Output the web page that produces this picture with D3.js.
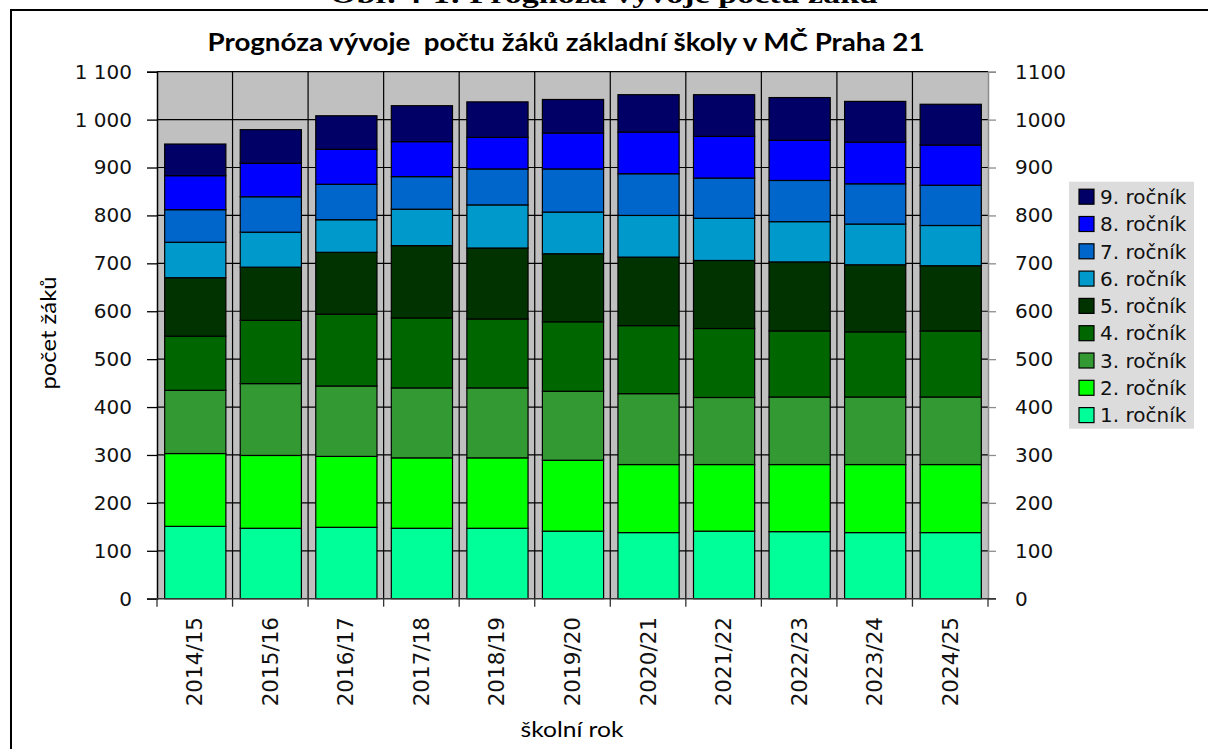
<html>
<head>
<meta charset="utf-8">
<title>Prognóza vývoje počtu žáků</title>
<script src="https://cdn.jsdelivr.net/npm/d3@7"></script>
<style>
	body, html{
		margin: 0;
		padding: 0;
		background: #fff;
		overflow: hidden;
	}
	svg{
		display: block;
	}
	.tick-label{
		font-family: 'DejaVu Sans', Verdana, sans-serif;
		font-size: 20px;
		fill: #111;
	}
	.calibri{
		font-family: Lato, 'Open Sans', sans-serif;
		fill: #000;
		white-space: pre;
	}
</style>
</head>
<body>
<svg id="chart" width="1208" height="749"></svg>

<script type="text/javascript">
	// data
	var categories = ['2014/15', '2015/16', '2016/17', '2017/18', '2018/19', '2019/20', '2020/21', '2021/22', '2022/23', '2023/24', '2024/25'];
	var seriesNames = ['1. ročník', '2. ročník', '3. ročník', '4. ročník', '5. ročník', '6. ročník', '7. ročník', '8. ročník', '9. ročník'];
	var seriesColors = ['#00FF99', '#00FF00', '#339933', '#006600', '#003300', '#0099CC', '#0066CC', '#0000FF', '#000066'];

	var grade1 = [151, 147, 149, 147, 147, 141, 138, 141, 140, 138, 138];
	var grade2 = [152, 152, 148, 147, 147, 148, 142, 139, 140, 142, 142];
	var grade3 = [132, 150, 147, 146, 146, 144, 148, 140, 141, 141, 141];
	var grade4 = [113, 132, 150, 146, 144, 145, 142, 144, 138, 136, 138];
	var grade5 = [122, 111, 129, 151, 148, 142, 143, 142, 144, 140, 136];
	var grade6 = [74, 73, 68, 76, 90, 87, 87, 88, 84, 85, 84];
	var grade7 = [68, 74, 74, 68, 75, 90, 87, 84, 86, 84, 84];
	var grade8 = [71, 70, 73, 73, 66, 75, 87, 87, 84, 87, 84];
	var grade9 = [66, 70, 70, 75, 74, 70, 78, 87, 89, 85, 85];

	var yTicks = [0, 100, 200, 300, 400, 500, 600, 700, 800, 900, 1000, 1100];

	var grades = [grade1, grade2, grade3, grade4, grade5, grade6, grade7, grade8, grade9];

	var rows = categories.map(function (c, i) {
		var r = {year: c};
		seriesNames.forEach(function (s, k) { r[s] = grades[k][i]; });
		return r;
	});

	var svg = d3.select('#chart'),
		plotLeft = 157,
		plotRight = 988,
		plotTop = 71.7,
		plotBottom = 598.7;

	var x = d3.scaleBand().domain(categories).range([plotLeft, plotRight]).padding(0);
	var y = d3.scaleLinear().domain([0, 1100]).range([plotBottom, plotTop]);
	var barW = x.bandwidth() * 0.81;

	// outer frame (cut by the page edge)
	svg.append('path')
		.attr('d', 'M11,760 V10 H1230')
		.attr('fill', 'none')
		.attr('stroke', '#000')
		.attr('stroke-width', 2);

	// caption of the figure, half cut by the top edge
	svg.append('text')
		.attr('x', 604)
		.attr('y', 3)
		.attr('text-anchor', 'middle')
		.attr('textLength', 548)
		.attr('lengthAdjust', 'spacingAndGlyphs')
		.style('font-family', "'Liberation Serif', 'Times New Roman', serif")
		.style('font-weight', 'bold')
		.style('font-size', '26px')
		.text('Obr. 4-1: Prognóza vývoje počtu žáků');

	// plot background
	svg.append('rect')
		.attr('x', plotLeft)
		.attr('y', plotTop)
		.attr('width', plotRight - plotLeft)
		.attr('height', plotBottom - plotTop)
		.attr('fill', '#C0C0C0');

	// horizontal gridlines
	svg.append('g')
		.selectAll('line')
		.data(yTicks.slice(1))
		.join('line')
		.attr('x1', plotLeft)
		.attr('x2', plotRight)
		.attr('y1', function (d) { return y(d); })
		.attr('y2', function (d) { return y(d); })
		.attr('stroke', '#000')
		.attr('stroke-width', 1.2);

	// vertical gridlines at category boundaries
	svg.append('g')
		.selectAll('line')
		.data(categories.slice(1))
		.join('line')
		.attr('x1', function (d) { return x(d); })
		.attr('x2', function (d) { return x(d); })
		.attr('y1', plotTop)
		.attr('y2', plotBottom)
		.attr('stroke', '#000')
		.attr('stroke-width', 1.2);

	// stacked bars
	var stacked = d3.stack().keys(seriesNames)(rows);

	svg.append('g')
		.selectAll('g')
		.data(stacked)
		.join('g')
		.attr('fill', function (d, i) { return seriesColors[i]; })
		.selectAll('rect')
		.data(function (d) { return d; })
		.join('rect')
		.attr('x', function (d) { return x(d.data.year) + (x.bandwidth() - barW) / 2 + 0.5; })
		.attr('width', barW)
		.attr('y', function (d) { return y(d[1]); })
		.attr('height', function (d) { return y(d[0]) - y(d[1]); })
		.attr('stroke', '#000')
		.attr('stroke-width', 1.2);

	// left axis
	var leftAxis = svg.append('g')
		.attr('transform', 'translate(' + plotLeft + ',0)')
		.call(d3.axisLeft(y).tickValues(yTicks).tickSize(10).tickPadding(15)
			.tickFormat(function (d) { return d3.format(',')(d).replace(',', '\u00a0'); }));
	leftAxis.select('.domain').attr('stroke', '#000').attr('stroke-width', 1.5);
	leftAxis.selectAll('.tick line').attr('stroke', '#000').attr('stroke-width', 1.3);
	leftAxis.selectAll('.tick text').attr('class', 'tick-label').attr('fill', null);

	// right axis
	var rightAxis = svg.append('g')
		.attr('transform', 'translate(' + plotRight + ',0)')
		.call(d3.axisRight(y).tickValues(yTicks).tickSize(8).tickPadding(19).tickFormat(d3.format('d')));
	rightAxis.select('.domain').attr('stroke', '#8c8c8c').attr('stroke-width', 1.5);
	rightAxis.selectAll('.tick line').attr('stroke', '#8c8c8c').attr('stroke-width', 1.3);
	rightAxis.selectAll('.tick text').attr('class', 'tick-label').attr('fill', null);

	// bottom axis: ticks at category boundaries, rotated labels in the middle
	var bounds = categories.map(function (c) { return x(c); }).concat([plotRight]);
	var bottom = svg.append('g');
	bottom.append('line')
		.attr('x1', plotLeft - 10)
		.attr('x2', plotRight + 8)
		.attr('y1', plotBottom)
		.attr('y2', plotBottom)
		.attr('stroke', '#333')
		.attr('stroke-width', 1.5);
	bottom.selectAll('line.tk')
		.data(bounds)
		.join('line')
		.attr('class', 'tk')
		.attr('x1', function (d) { return d; })
		.attr('x2', function (d) { return d; })
		.attr('y1', plotBottom)
		.attr('y2', plotBottom + 8)
		.attr('stroke', '#333')
		.attr('stroke-width', 1.3);
	bottom.selectAll('text')
		.data(categories)
		.join('text')
		.attr('class', 'tick-label')
		.style('font-size', '21.5px')
		.attr('text-anchor', 'end')
		.attr('dy', '0.35em')
		.attr('transform', function (d) {
			return 'translate(' + (x(d) + x.bandwidth() / 2) + ',' + 617 + ') rotate(-90)';
		})
		.text(function (d) { return d; });

	// titles
	svg.append('text')
		.attr('class', 'calibri')
		.attr('x', 566)
		.attr('y', 51)
		.attr('text-anchor', 'middle')
		.attr('textLength', 717)
		.attr('lengthAdjust', 'spacingAndGlyphs')
		.style('font-weight', 'bold')
		.style('font-size', '24px')
		.text('Prognóza vývoje  počtu žáků základní školy v MČ Praha 21');

	svg.append('text')
		.attr('class', 'calibri')
		.attr('transform', 'translate(56,333) rotate(-90)')
		.attr('text-anchor', 'middle')
		.attr('textLength', 113)
		.attr('lengthAdjust', 'spacingAndGlyphs')
		.style('font-size', '22px')
		.text('počet žáků');

	svg.append('text')
		.attr('class', 'calibri')
		.attr('x', 572)
		.attr('y', 737)
		.attr('text-anchor', 'middle')
		.attr('textLength', 103)
		.attr('lengthAdjust', 'spacingAndGlyphs')
		.style('font-size', '22px')
		.text('školní rok');

	// legend
	var legend = svg.append('g');
	legend.append('rect')
		.attr('x', 1069)
		.attr('y', 181.7)
		.attr('width', 125)
		.attr('height', 247)
		.attr('fill', '#DCDCDC');

	var legendOrder = seriesNames.map(function (s, i) { return i; }).reverse();
	var item = legend.selectAll('g.item')
		.data(legendOrder)
		.join('g')
		.attr('class', 'item')
		.attr('transform', function (d, i) { return 'translate(1079,' + (196.7 + i * 27.3) + ')'; });
	item.append('rect')
		.attr('x', 0)
		.attr('y', -7.5)
		.attr('width', 15)
		.attr('height', 15)
		.attr('fill', function (d) { return seriesColors[d]; })
		.attr('stroke', '#000')
		.attr('stroke-width', 1.2);
	item.append('text')
		.attr('class', 'tick-label')
		.attr('x', 21)
		.attr('dy', '0.36em')
		.text(function (d) { return seriesNames[d]; });
</script>
</body>
</html>
